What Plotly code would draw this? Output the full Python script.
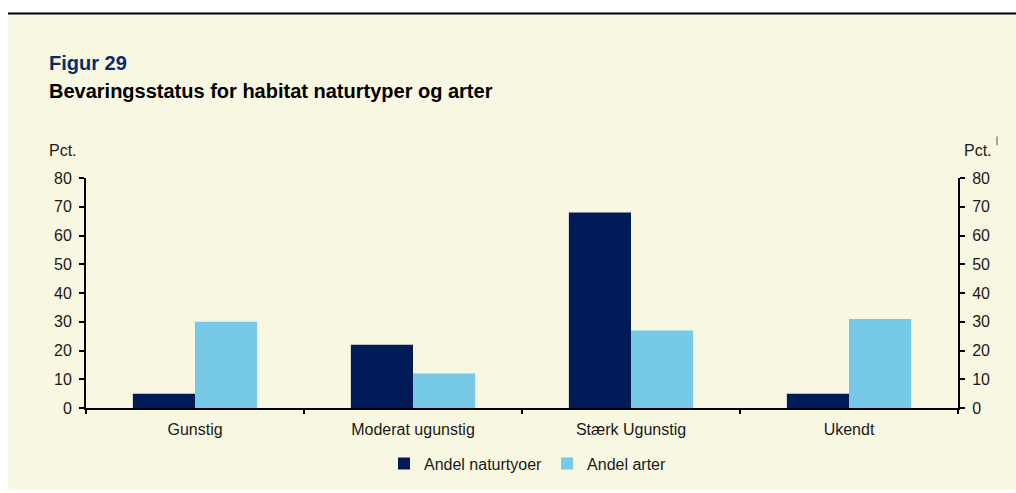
import plotly.graph_objects as go

categories = ["Gunstig", "Moderat ugunstig", "Stærk Ugunstig", "Ukendt"]
naturtyper = [5, 22, 68, 5]
arter = [30, 12, 27, 31]
series_names = ["Andel naturtyoer", "Andel arter"]
y_ticks = [0, 10, 20, 30, 40, 50, 60, 70, 80]

NAVY = "#001B57"
LIGHT = "#76C9E7"
BG = "#F8F7E1"
FONT = "Liberation Sans, Arial, sans-serif"
TXT = "#1a1a1a"

W, H = 1016, 493
L, R, T, B = 86, 958, 178, 410
pw, ph = R - L, B - T

def px(x):
    return (x - L) / pw

def py(y):
    return (B - y) / ph

fig = go.Figure()
fig.add_trace(go.Bar(x=categories, y=naturtyper, name=series_names[0],
                     marker=dict(color=NAVY, line=dict(width=0))))
fig.add_trace(go.Bar(x=categories, y=arter, name=series_names[1],
                     marker=dict(color=LIGHT, line=dict(width=0))))
# invisible trace to activate the right-hand axis
fig.add_trace(go.Scatter(x=categories, y=arter, yaxis="y2", mode="markers",
                         marker=dict(opacity=0), showlegend=False, hoverinfo="skip"))

shapes = [
    dict(type="rect", xref="paper", yref="paper", x0=px(8), x1=px(1016), y0=py(492), y1=py(13),
         fillcolor=BG, line=dict(width=0), layer="below"),
    dict(type="line", xref="paper", yref="paper", x0=px(8), x1=px(1016), y0=py(12), y1=py(12),
         line=dict(color="black", width=2)),
    dict(type="line", xref="paper", yref="paper", x0=px(997), x1=px(997), y0=py(145), y1=py(136),
         line=dict(color="#555555", width=1)),
]

annotations = [
    dict(text="<b>Figur 29</b>", xref="paper", yref="paper", x=px(47), y=py(62),
         xanchor="left", yanchor="middle", showarrow=False,
         font=dict(family=FONT, size=20, color="#0B2A6B")),
    dict(text="<b>Bevaringsstatus for habitat naturtyper og arter</b>", xref="paper", yref="paper",
         x=px(47), y=py(90), xanchor="left", yanchor="middle", showarrow=False,
         font=dict(family=FONT, size=20, color="black")),
    dict(text="Pct.", xref="paper", yref="paper", x=px(79), y=py(150),
         xanchor="right", yanchor="middle", showarrow=False,
         font=dict(family=FONT, size=16, color=TXT)),
    dict(text="Pct.", xref="paper", yref="paper", x=px(962), y=py(150),
         xanchor="left", yanchor="middle", showarrow=False,
         font=dict(family=FONT, size=16, color=TXT)),
]

yax = dict(range=[0, 80], tickvals=y_ticks, showgrid=False, zeroline=False,
           showline=True, linecolor="black", linewidth=2,
           ticks="outside", ticklen=5, tickwidth=1.5, tickcolor="black",
           ticklabelstandoff=4,
           tickfont=dict(family=FONT, size=16, color=TXT), fixedrange=True)

fig.update_layout(
    width=W, height=H,
    margin=dict(l=L, r=W - R, t=T, b=H - B, pad=0),
    paper_bgcolor="white", plot_bgcolor="rgba(0,0,0,0)",
    barmode="group", bargap=0.43, bargroupgap=0,
    font=dict(family=FONT, size=16, color=TXT),
    xaxis=dict(showline=True, linecolor="black", linewidth=2, showgrid=False,
               ticks="outside", tickson="boundaries", ticklen=4, tickwidth=1.5, tickcolor="black",
               ticklabelstandoff=6, fixedrange=True,
               tickfont=dict(family=FONT, size=16, color=TXT)),
    yaxis=yax,
    yaxis2=dict(yax, overlaying="y", side="right"),
    legend=dict(orientation="h", x=px(528), y=py(466), xanchor="center", yanchor="middle",
                bgcolor="rgba(0,0,0,0)", font=dict(family=FONT, size=16, color=TXT),
                itemwidth=30, tracegroupgap=0),
    shapes=shapes, annotations=annotations, showlegend=True,
)

fig.write_html("out.html", config={"displayModeBar": False},
               post_script="document.body.style.margin='0';document.body.style.padding='0';")
